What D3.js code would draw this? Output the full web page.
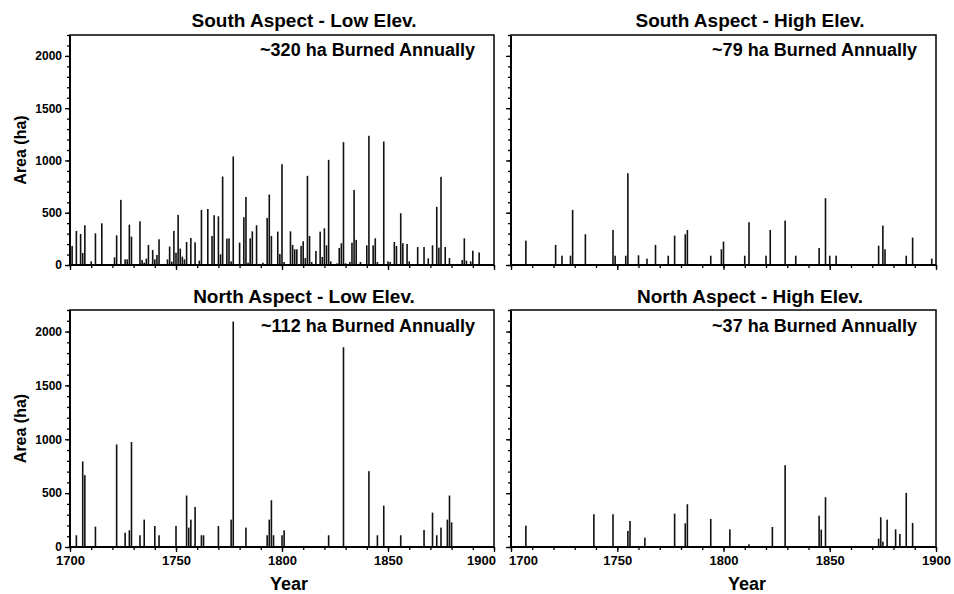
<!DOCTYPE html>
<html>
<head>
<meta charset="utf-8">
<script src="https://cdn.jsdelivr.net/npm/d3@7"></script>
<style>
  html, body { margin: 0; padding: 0; background: #fff; }
  svg { display: block; font-family: "Liberation Sans", Arial, sans-serif; }
  text { font-weight: bold; fill: #000; }
</style>
</head>
<body>
<svg id="chart" width="954" height="594"></svg>
<script>
// ---- data (year of fire, area burned in ha) ----
const southLowYears = [1701,1703,1705,1706,1707,1710,1712,1715,1721,1722,1724,1726,1727,1728,1729,1733,1734,1735,1736,1737,1739,1740,1741,1742,1744,1746,1747,1748,1749,1750,1751,1752,1753,1754,1755,1757,1759,1761,1762,1765,1767,1768,1770,1771,1772,1774,1775,1776,1777,1780,1782,1783,1784,1785,1786,1788,1791,1793,1794,1795,1798,1799,1800,1801,1804,1805,1806,1807,1809,1810,1811,1812,1813,1814,1816,1818,1819,1820,1821,1822,1823,1826,1827,1828,1829,1830,1832,1833,1834,1835,1837,1840,1841,1843,1844,1845,1848,1850,1851,1853,1854,1856,1857,1859,1860,1864,1867,1869,1871,1873,1874,1875,1877,1879,1885,1886,1887,1889,1890,1893];
const southLowArea  = [182,326,297,115,380,35,303,399,73,284,623,54,54,386,271,418,48,22,61,192,144,54,96,246,10,54,176,32,326,118,479,157,80,54,220,259,217,42,527,536,278,476,466,102,846,252,255,35,1038,214,457,651,22,255,322,380,22,450,674,278,319,105,964,29,322,192,150,150,182,227,67,853,278,29,134,319,77,351,188,1006,35,16,163,208,1175,16,29,214,718,240,29,188,1236,188,255,29,1181,35,29,220,182,495,208,201,35,172,172,64,188,556,166,843,172,67,48,255,42,35,137,120];

const southHighYears = [1707,1721,1724,1728,1729,1735,1748,1749,1754,1755,1760,1764,1768,1774,1777,1782,1783,1794,1799,1800,1810,1812,1820,1822,1829,1834,1845,1848,1850,1853,1873,1875,1876,1886,1889,1898];
const southHighArea  = [233,192,89,89,527,294,335,89,89,878,93,61,192,89,281,294,335,89,150,224,89,409,89,335,425,89,163,639,89,89,185,377,150,89,262,61];

const northLowYears = [1703,1706,1707,1712,1722,1726,1728,1729,1733,1735,1740,1742,1750,1755,1756,1757,1759,1762,1763,1770,1776,1777,1783,1793,1794,1795,1796,1800,1801,1822,1829,1841,1845,1848,1856,1867,1871,1873,1875,1878,1879,1880];
const northLowArea  = [109,794,667,189,952,133,155,974,109,254,195,109,195,478,180,254,372,109,109,195,254,2093,180,109,254,434,109,109,155,109,1854,704,109,384,109,158,319,109,180,254,478,229];

const northHighYears = [1707,1739,1748,1755,1756,1763,1777,1782,1783,1794,1803,1812,1823,1829,1845,1846,1848,1873,1874,1875,1877,1881,1883,1886,1889];
const northHighArea  = [198,304,304,149,242,87,310,220,397,260,164,25,186,760,291,161,462,78,276,50,254,164,121,502,223];

const panelTitles = ["South Aspect - Low Elev.", "South Aspect - High Elev.", "North Aspect - Low Elev.", "North Aspect - High Elev."];
const annualLabels = ["~320 ha Burned Annually", "~79 ha Burned Annually", "~112 ha Burned Annually", "~37 ha Burned Annually"];
const xMajorTicks = [1700, 1750, 1800, 1850, 1900];
const yMajorTicks = [0, 500, 1000, 1500, 2000];
const xDomain = [1700, 1900];
const yDomain = [0, 2200];

// ---- layout ----
const svg = d3.select("#chart");
const cols = [{x0: 70, x1: 494, tx: 304, yx: 289}, {x0: 511, x1: 936, tx: 750, yx: 747}];
const rows = [{y0: 35, y1: 265, tb: 27, ab: 21}, {y0: 310, y1: 547, tb: 303, ab: 22}];

const panels = [
  {years: southLowYears,  area: southLowArea,  col: 0, row: 0},
  {years: southHighYears, area: southHighArea, col: 1, row: 0},
  {years: northLowYears,  area: northLowArea,  col: 0, row: 1},
  {years: northHighYears, area: northHighArea, col: 1, row: 1}
];

panels.forEach((p, i) => {
  const c = cols[p.col], r = rows[p.row];
  const x = d3.scaleLinear().domain(xDomain).range([c.x0, c.x1]);
  const y = d3.scaleLinear().domain(yDomain).range([r.y1, r.y0]);
  const g = svg.append("g");

  // bars
  const data = p.years.map((yr, k) => ({year: yr, area: p.area[k]}));
  g.selectAll("rect.bar").data(data).join("rect")
    .attr("class", "bar")
    .attr("x", d => x(d.year) - 0.8)
    .attr("width", 1.6)
    .attr("y", d => y(d.area))
    .attr("height", d => y(0) - y(d.area))
    .attr("fill", "#111");

  // x axis minor ticks
  const xMinor = d3.range(1700, 1901, 10);
  const gxm = g.append("g").attr("transform", `translate(0,${r.y1})`)
    .call(d3.axisBottom(x).tickValues(xMinor).tickSize(3).tickFormat(""));
  gxm.select(".domain").remove();
  const gx = g.append("g").attr("transform", `translate(0,${r.y1})`)
    .call(d3.axisBottom(x).tickValues(xMajorTicks).tickSize(5).tickPadding(4)
      .tickFormat(p.row === 1 ? d3.format("d") : ""));
  gx.select(".domain").remove();
  gx.selectAll("text").attr("font-size", 13).attr("font-weight", "bold").attr("fill", "#000")
    .attr("dx", d => (p.col === 0 && d === 1900) ? -13 : (p.col === 1 && d === 1700) ? 12 : 0);

  // y axis
  const yMinor = d3.range(0, 2201, 100);
  const gym = g.append("g").attr("transform", `translate(${c.x0},0)`)
    .call(d3.axisLeft(y).tickValues(yMinor).tickSize(3).tickFormat(""));
  gym.select(".domain").remove();
  const gy = g.append("g").attr("transform", `translate(${c.x0},0)`)
    .call(d3.axisLeft(y).tickValues(yMajorTicks).tickSize(5).tickPadding(3)
      .tickFormat(p.col === 0 ? d3.format("d") : ""));
  gy.select(".domain").remove();
  gy.selectAll("text").attr("font-size", 12).attr("font-weight", "bold").attr("fill", "#000");
  g.selectAll(".tick line").attr("stroke", "#000").attr("stroke-width", 1.3);

  // frame
  g.append("rect")
    .attr("x", c.x0).attr("y", r.y0)
    .attr("width", c.x1 - c.x0).attr("height", r.y1 - r.y0)
    .attr("fill", "none").attr("stroke", "#000").attr("stroke-width", 1.5);
  g.append("line").attr("x1", c.x0).attr("x2", c.x1).attr("y1", r.y1).attr("y2", r.y1)
    .attr("stroke", "#000").attr("stroke-width", 2);
  g.append("line").attr("x1", c.x0).attr("x2", c.x0).attr("y1", r.y0).attr("y2", r.y1)
    .attr("stroke", "#000").attr("stroke-width", 2);

  // titles
  g.append("text")
    .attr("x", c.tx).attr("y", r.tb)
    .attr("text-anchor", "middle").attr("font-size", 19)
    .text(panelTitles[i]);
  g.append("text")
    .attr("x", c.x1 - 19).attr("y", r.y0 + r.ab)
    .attr("text-anchor", "end").attr("font-size", 18)
    .text(annualLabels[i]);

  if (p.row === 1) {
    g.append("text")
      .attr("x", c.yx).attr("y", 590)
      .attr("text-anchor", "middle").attr("font-size", 18)
      .text("Year");
  }
  if (p.col === 0) {
    g.append("text")
      .attr("transform", `translate(26,${(r.y0 + r.y1) / 2}) rotate(-90)`)
      .attr("text-anchor", "middle").attr("font-size", 16)
      .text("Area (ha)");
  }
});
</script>
</body>
</html>
